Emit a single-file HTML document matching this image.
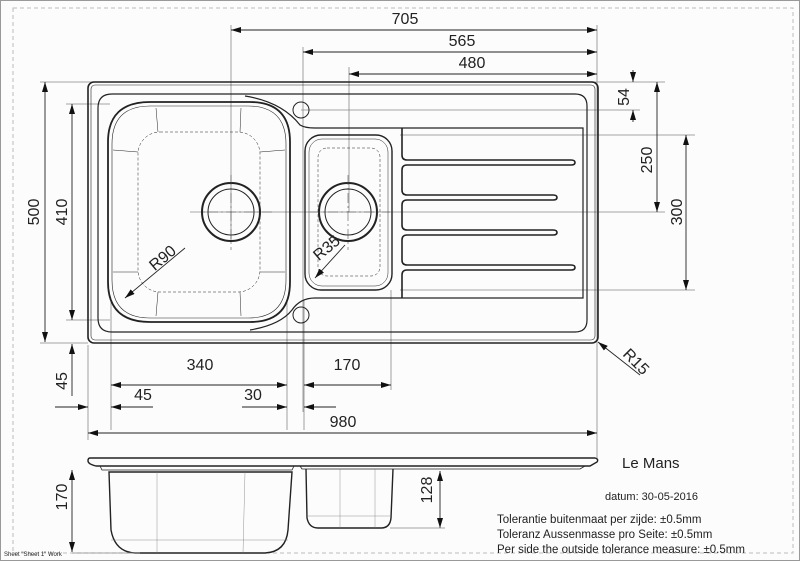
<!DOCTYPE html>
<html><head><meta charset="utf-8"><style>
html,body{margin:0;padding:0;background:#fff}
svg{display:block}
text{font-family:"Liberation Sans",sans-serif;fill:#222}
</style></head><body>
<svg width="800" height="561" viewBox="0 0 800 561" xmlns="http://www.w3.org/2000/svg">
<defs>
<marker id="a" viewBox="0 0 10 6" refX="10" refY="3" markerWidth="10" markerHeight="6" orient="auto-start-reverse" markerUnits="userSpaceOnUse"><path d="M0,0L10,3L0,6z" fill="#111"/></marker>
</defs>
<rect x="0.5" y="0.5" width="799" height="560" fill="#fcfcfc" stroke="#999"/>
<rect x="13" y="8" width="780" height="545" fill="none" stroke="#bbb" stroke-dasharray="4,3"/>

<g stroke="#888" stroke-width="0.8" fill="none">
<line x1="231" y1="25" x2="231" y2="240"/>
<line x1="303" y1="47" x2="303" y2="412"/>
<line x1="349" y1="67" x2="349" y2="212"/>
<line x1="597" y1="25" x2="597" y2="460"/>
<line x1="40" y1="82" x2="665" y2="82"/>
<line x1="66" y1="104" x2="110" y2="104"/>
<line x1="301" y1="110" x2="640" y2="110"/>
<line x1="400" y1="135" x2="695" y2="135"/>
<line x1="200" y1="212" x2="665" y2="212"/>
<line x1="400" y1="290" x2="695" y2="290"/>
<line x1="66" y1="320" x2="110" y2="320"/>
<line x1="40" y1="343" x2="88" y2="343"/>
<line x1="88" y1="345" x2="88" y2="440"/>
<line x1="111" y1="300" x2="111" y2="430"/>
<line x1="287" y1="300" x2="287" y2="430"/>
<line x1="304" y1="300" x2="304" y2="430"/>
<line x1="391" y1="290" x2="391" y2="390"/>
</g>

<g fill="none" stroke="#222">
<rect x="88" y="82" width="510" height="261" rx="6" stroke-width="1.6"/>
<rect x="91" y="85" width="504" height="255" rx="4" stroke-width="0.6"/>
<path d="M245,94 L575,94 Q587,94 587,106 L587,320 Q587,332 575,332 L252,332" stroke-width="1.2"/>
<path d="M245,94 L112,94 Q98,94 98,108 L98,318 Q98,332 112,332 L252,332" stroke-width="1.2"/>
<path d="M245,96 Q282,102 300,125 Q305,128 315,128 L583,128 L583,298 L315,298 Q300,298 292,310 Q280,325 250,330" stroke-width="1.2"/>
<path d="M150,102 L250,102 Q290,102 290,142 L290,282 Q290,322 250,322 L150,322 Q108,322 108,282 L108,142 Q108,102 150,102Z" stroke-width="1.8"/>
<path d="M150,106 L248,106 Q286,106 286,144 L286,280 Q286,318 248,318 L150,318 Q112,318 112,280 L112,144 Q112,106 150,106Z" stroke-width="0.6"/>
<rect x="138" y="132" width="122" height="160" rx="22" stroke-width="0.5" stroke-dasharray="3,2"/>
<path d="M156,108 L158,132 M241,108 L240,132 M113,150 L138,152 M285,150 L260,152 M113,272 L138,272 M285,272 L260,272 M156,316 L158,292 M241,316 L240,292" stroke-width="0.5"/>
<rect x="305" y="135" width="87" height="155" rx="16" stroke-width="1.4"/>
<rect x="309" y="139" width="79" height="147" rx="13" stroke-width="0.5"/>
<rect x="318" y="148" width="62" height="128" rx="9" stroke-width="0.5" stroke-dasharray="3,2"/>
<circle cx="231" cy="212" r="29" stroke-width="2"/>
<circle cx="231" cy="212" r="23" stroke-width="1"/>
<circle cx="348" cy="212" r="29" stroke-width="2"/>
<circle cx="348" cy="212" r="23" stroke-width="1"/>
<circle cx="301" cy="110" r="8" stroke-width="1"/>
<circle cx="301" cy="315" r="8" stroke-width="1"/>
<path d="M402,128 L402,155 Q402,160 407,160 L571,160 Q575,160 575,162.5 Q575,165 571,165 L407,165 Q402,165 402,170 L402,190 Q402,195 407,195 L553,195 Q557,195 557,197.5 Q557,200 553,200 L407,200 Q402,200 402,205 L402,225 Q402,230 407,230 L553,230 Q557,230 557,232.5 Q557,235 553,235 L407,235 Q402,235 402,240 L402,260 Q402,265 407,265 L571,265 Q575,265 575,267.5 Q575,270 571,270 L407,270 Q402,270 402,275 L402,298" stroke-width="1.6"/>
</g>
<g stroke="#555" stroke-width="0.6" stroke-dasharray="10,3,2,3">
<line x1="190" y1="212" x2="272" y2="212"/><line x1="231" y1="175" x2="231" y2="250"/>
<line x1="310" y1="212" x2="390" y2="212"/><line x1="348" y1="175" x2="348" y2="250"/>
</g>

<g stroke="#222" stroke-width="0.9" fill="none" marker-start="url(#a)" marker-end="url(#a)">
<line x1="231" y1="30" x2="597" y2="30"/>
<line x1="303" y1="52" x2="597" y2="52"/>
<line x1="349" y1="74" x2="597" y2="74"/>
<line x1="45" y1="82" x2="45" y2="342"/>
<line x1="72" y1="104" x2="72" y2="320"/>
<line x1="657" y1="82" x2="657" y2="212"/>
<line x1="686" y1="135" x2="686" y2="290"/>
<line x1="111" y1="385" x2="287" y2="385"/>
<line x1="304" y1="385" x2="391" y2="385"/>
<line x1="88" y1="433" x2="597" y2="433"/>
<line x1="72" y1="470" x2="72" y2="552"/>
<line x1="440" y1="471" x2="440" y2="528"/>
</g>
<g stroke="#222" stroke-width="0.9" fill="none">
<line x1="633" y1="70" x2="633" y2="82" marker-end="url(#a)"/>
<line x1="633" y1="122" x2="633" y2="110" marker-end="url(#a)"/>
<line x1="72" y1="396" x2="72" y2="344" marker-end="url(#a)"/>
<line x1="55" y1="407" x2="88" y2="407" marker-end="url(#a)"/>
<line x1="153" y1="407" x2="111" y2="407" marker-end="url(#a)"/>
<line x1="242" y1="407" x2="287" y2="407" marker-end="url(#a)"/>
<line x1="336" y1="407" x2="304" y2="407" marker-end="url(#a)"/>
<line x1="640" y1="375" x2="598" y2="342" marker-end="url(#a)"/>
<line x1="185" y1="248" x2="125" y2="298" marker-end="url(#a)"/>
<line x1="345" y1="245" x2="315" y2="278" marker-end="url(#a)"/>
</g>

<g font-size="16">
<text x="405" y="24" text-anchor="middle">705</text>
<text x="462" y="46" text-anchor="middle">565</text>
<text x="472" y="68" text-anchor="middle">480</text>
<text x="200" y="370" text-anchor="middle">340</text>
<text x="347" y="370" text-anchor="middle">170</text>
<text x="143" y="400" text-anchor="middle">45</text>
<text x="253" y="400" text-anchor="middle">30</text>
<text x="343" y="427" text-anchor="middle">980</text>
<text transform="translate(39,212) rotate(-90)" text-anchor="middle">500</text>
<text transform="translate(67,212) rotate(-90)" text-anchor="middle">410</text>
<text transform="translate(67,381) rotate(-90)" text-anchor="middle">45</text>
<text transform="translate(629,97) rotate(-90)" text-anchor="middle">54</text>
<text transform="translate(652,160) rotate(-90)" text-anchor="middle">250</text>
<text transform="translate(682,212) rotate(-90)" text-anchor="middle">300</text>
<text transform="translate(67,497) rotate(-90)" text-anchor="middle">170</text>
<text transform="translate(432,490) rotate(-90)" text-anchor="middle">128</text>
<text transform="translate(166,262) rotate(-40)" text-anchor="middle">R90</text>
<text transform="translate(330,252) rotate(-40)" text-anchor="middle">R35</text>
<text transform="translate(622,355) rotate(45)" text-anchor="start">R15</text>
</g>

<g fill="none" stroke="#222">
<path d="M90,458 L595,458 Q599,459 597,462 L590,466 L96,466 Q88,464 88,461 Q88,458 90,458Z" stroke-width="1.4"/>
<path d="M100,466 L102,470 L292,470 L294,466 M300,466 L302,469 L580,469 L585,466" stroke-width="0.8"/>
<path d="M109,472 L111,530 Q115,552 135,553 L265,553 Q286,552 288,530 L292,472Z" stroke-width="1.4"/>
<path d="M306,469 L307,518 Q309,528 318,528 L381,528 Q390,528 391,518 L393,469" stroke-width="1.4"/>
<path d="M157,472 L157,553 M245,472 L243,553 M111,540 L288,540 M340,469 L340,528 M375,469 L375,528 M307,516 L391,516" stroke-width="0.4" stroke="#777"/>
<line x1="72" y1="553" x2="140" y2="553" stroke="#888" stroke-width="0.7"/>
<line x1="390" y1="528" x2="445" y2="528" stroke="#888" stroke-width="0.7"/>
</g>

<text x="622" y="468" font-size="15">Le Mans</text>
<text x="605" y="500" font-size="11">datum: 30-05-2016</text>
<g font-size="11.5">
<text x="497" y="523">Tolerantie buitenmaat per zijde:  ±0.5mm</text>
<text x="497" y="538">Toleranz Aussenmasse pro Seite:  ±0.5mm</text>
<text x="497" y="553">Per side the outside tolerance measure:  ±0.5mm</text>
</g>
<text x="4" y="556" font-size="6" fill="#666">Sheet "Sheet 1" Work</text>
</svg>
</body></html>
